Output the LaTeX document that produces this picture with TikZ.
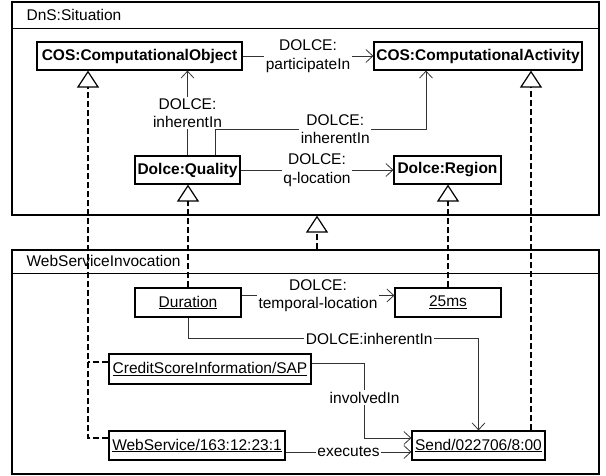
\documentclass[tikz,border=0pt]{standalone}
\usepackage{fontspec}
\setmainfont{Liberation Sans}
\usetikzlibrary{arrows.meta, positioning}
\newcommand{\umlfont}{\fontsize{15.5}{18.5}\selectfont}

\begin{document}
\begin{tikzpicture}[x=1pt, y=-1pt,
    frame/.style={draw, line width=1.2pt, inner sep=0pt},
    cls/.style={draw, line width=1.2pt, minimum height=28pt, inner sep=2pt, font=\umlfont\bfseries},
    inst/.style={draw, line width=1.2pt, minimum height=29pt, inner sep=2pt, font=\umlfont},
    title/.style={anchor=west, font=\umlfont, inner sep=0pt},
    lbl/.style={fill=white, align=center, inner sep=1.5pt, font=\umlfont},
    assoc/.style={line width=0.8pt, draw=black!80, -{Straight Barb[length=7pt, width=13pt]}},
    realize/.style={line width=1.6pt, dash pattern=on 6pt off 3pt, -{Triangle[length=17pt, width=22pt, fill=white, line width=1.2pt]}},
    dashline/.style={line width=1.6pt, dash pattern=on 6pt off 3pt}
]
\useasboundingbox (0,0) rectangle (606,476);

% Frames
\node[frame, minimum width=587pt, minimum height=213pt] (dns) at (305.5,108.5) {};
\draw[line width=1.2pt] ([yshift=-27pt]dns.north west) -- ([yshift=-27pt]dns.north east);
\node[title] (dnstitle) at ([shift={(15pt,-14pt)}]dns.north west) {DnS:Situation};

\node[frame, minimum width=587pt, minimum height=224pt] (wsi) at (305.5,362) {};
\draw[line width=1.2pt] ([yshift=-24pt]wsi.north west) -- ([yshift=-24pt]wsi.north east);
\node[title] (wsititle) at ([shift={(15pt,-12pt)}]wsi.north west) {WebServiceInvocation};

% Classes
\node[cls, minimum width=205pt] (coo) at (139.5,56) {COS:ComputationalObject};
\node[cls, minimum width=208pt] (coa) at (478,56) {COS:ComputationalActivity};
\node[cls, minimum width=105pt] (quality) at (187.5,170) {Dolce:Quality};
\node[cls, minimum width=107pt] (region) at (447.5,170) {Dolce:Region};

% Instances
\node[inst, minimum width=106pt] (duration) at (188,302.5) {\underline{Duration}};
\node[inst, minimum width=106pt] (ms) at (448,302.5) {\underline{25ms}};
\node[inst, minimum width=202pt, minimum height=30pt] (csi) at (210,369) {\underline{CreditScoreInformation/SAP}};
\node[inst, minimum width=176pt] (ws) at (197,445.5) {\underline{WebService/163:12:23:1}};
\node[inst, minimum width=133pt] (send) at (478.5,445.5) {\underline{Send/022706/8:00}};

% Associations
\draw[assoc] (coo) -- node[lbl] {DOLCE:\\participateIn} (coa);
\draw[assoc] (quality.north) -- node[lbl] {DOLCE:\\inherentIn} (quality.north |- coo.south);
\draw[assoc] ([xshift=27.5pt]quality.north) -- ++(0pt,26pt) -| node[lbl, pos=0.285] {DOLCE:\\inherentIn} ([xshift=-52pt]coa.south);
\draw[assoc] (quality) -- node[lbl] {DOLCE:\\q-location} (region);
\draw[assoc] ([yshift=7pt]duration.east) -- node[lbl] {DOLCE:\\temporal-location} ([yshift=7pt]ms.west);
\draw[assoc] (duration.south) -- ++(0pt,-21pt) -| node[lbl, pos=0.312] {DOLCE:inherentIn} (send.north);
\draw[assoc] ([yshift=6pt]csi.east) -- ++(53pt,0pt) |- node[lbl, pos=0.23] {involvedIn} ([yshift=7.5pt]send.west);
\draw[assoc] ([yshift=-6.5pt]ws.east) -- node[lbl] {executes} ([yshift=-6.5pt]send.west);

% Generalizations
\coordinate (gcoo) at ([xshift=-51.5pt]coo.south);
\draw[realize] ([yshift=7.5pt]ws.west) -| (gcoo);
\path ([yshift=7pt]csi.west) coordinate (csiw);
\draw[dashline] (csiw) -- (csiw -| gcoo);
\draw[realize] (duration.north) -- (duration.north |- quality.south);
\draw[realize] (ms.north) -- (ms.north |- region.south);
\draw[realize] ([xshift=52.5pt]send.north) -- ([xshift=53pt]coa.south);
\draw[realize] ([xshift=11.5pt]wsi.north) -- ([xshift=11.5pt]dns.south);

\end{tikzpicture}
\end{document}
